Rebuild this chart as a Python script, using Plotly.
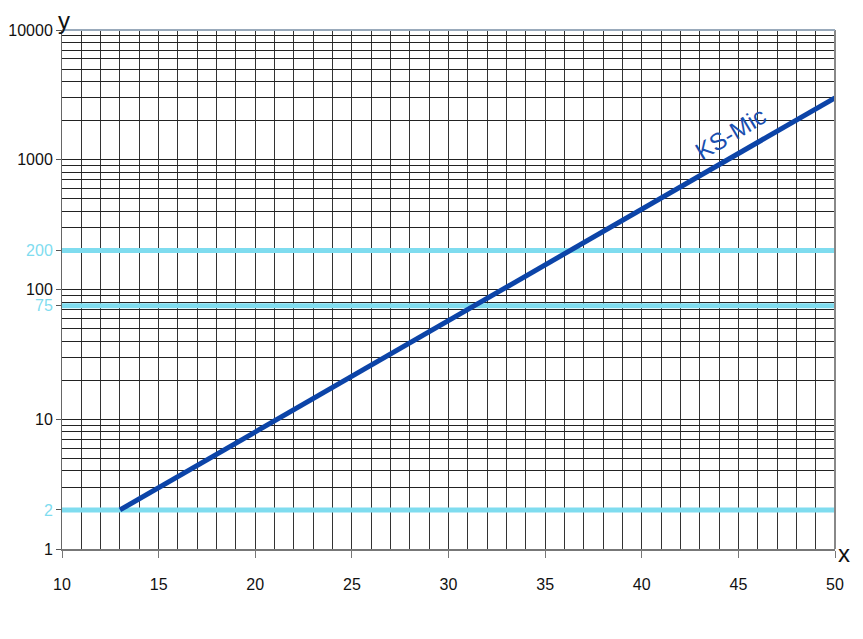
import plotly.graph_objects as go

# Data
line_x = [13, 50]
line_y = [2, 3000]
series_name = "KS-Mic"

ref_levels = [2, 75, 200]
x_range = [10, 50]

x_tickvals = [10, 15, 20, 25, 30, 35, 40, 45, 50]
y_tickvals = [1, 2, 10, 75, 100, 200, 1000, 10000]
cyan = "#7fdcef"
y_ticktext = ["1", f'<span style="color:{cyan}">2</span>', "10",
              f'<span style="color:{cyan}">75</span>', "100",
              f'<span style="color:{cyan}">200</span>', "1000", "10000"]
y_minor = [m * 10 ** d for d in range(0, 4) for m in range(1, 10)] + [10000]

FONT = "Liberation Sans, Arial"

fig = go.Figure()
for lvl in ref_levels:
    fig.add_trace(go.Scatter(x=x_range, y=[lvl, lvl], mode="lines",
                             line=dict(color=cyan, width=5), showlegend=False,
                             hoverinfo="skip"))
fig.add_trace(go.Scatter(x=line_x, y=line_y, mode="lines", name=series_name,
                         line=dict(color="#0c44a8", width=5), showlegend=False))

fig.add_annotation(x=44.6, y=3.2, xref="x", yref="y", text=series_name,
                   showarrow=False, textangle=-31,
                   font=dict(family=FONT, size=24, color="#1a4fb0"))
fig.add_annotation(x=0.0, y=1.0, xref="paper", yref="paper", text="y",
                   showarrow=False, xanchor="center", yanchor="bottom", yshift=-6,
                   xshift=2,
                   font=dict(family=FONT, size=24, color="#111"))
fig.add_annotation(x=1.0, y=0.0, xref="paper", yref="paper", text="x",
                   showarrow=False, xanchor="left", yanchor="middle", xshift=1,
                   yshift=-4,
                   font=dict(family=FONT, size=24, color="#111"))

fig.update_layout(
    width=855, height=631,
    margin=dict(l=54, r=28, t=22, b=90, autoexpand=False),
    paper_bgcolor="white", plot_bgcolor="white",
    font=dict(family=FONT, size=16, color="#111"),
    xaxis=dict(range=x_range, tickvals=x_tickvals, showgrid=True,
               gridcolor="#333", gridwidth=1,
               minor=dict(dtick=1, showgrid=True, gridcolor="#333", gridwidth=1),
               ticks="outside", ticklen=7, tickcolor="#777",
               ticklabelstandoff=13, automargin=False,
               showline=True, linecolor="#777", linewidth=2, mirror=False,
               zeroline=False),
    yaxis=dict(type="log", range=[0, 4], tickvals=y_tickvals, ticktext=y_ticktext,
               showgrid=False, automargin=False,
               minor=dict(tickvals=y_minor, showgrid=True, gridcolor="#222", gridwidth=1),
               ticks="outside", ticklen=5, tickcolor="#555",
               ticklabelstandoff=0,
               showline=True, linecolor="#666", linewidth=1,
               zeroline=False),
)
fig.add_shape(type="line", xref="paper", yref="paper", x0=1, x1=1, y0=0, y1=1,
              line=dict(color="#888", width=2))
fig.add_shape(type="line", xref="paper", yref="paper", x0=0, x1=1, y0=1, y1=1,
              line=dict(color="#9ab", width=2))

fig.write_html("out.html")
